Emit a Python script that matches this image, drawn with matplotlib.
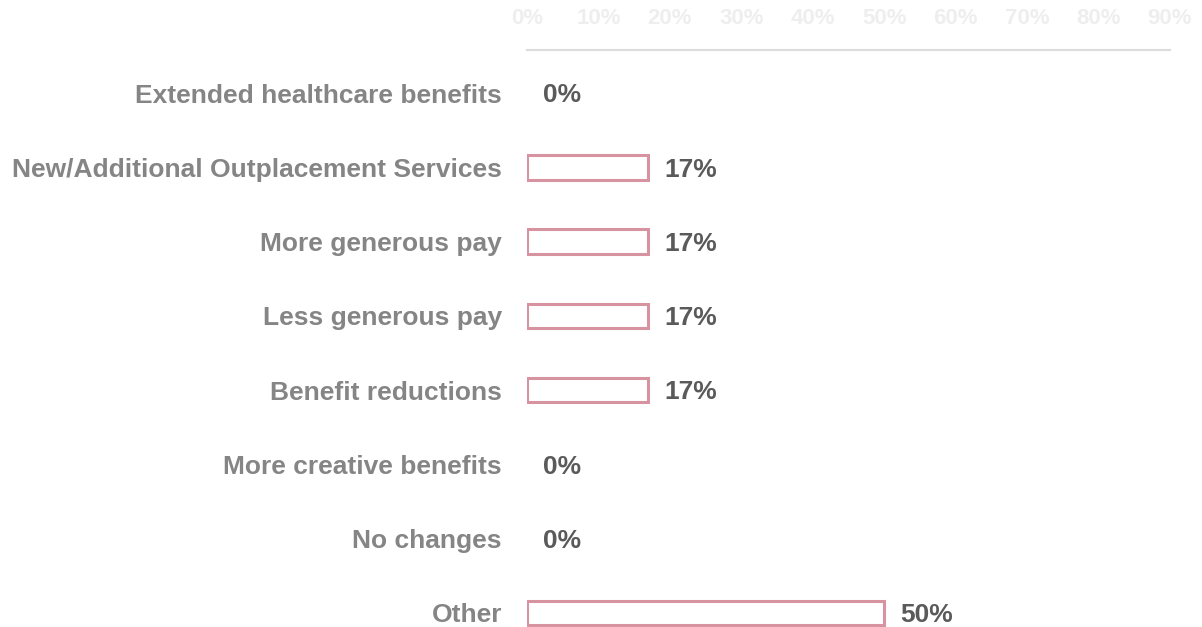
import matplotlib.pyplot as plt

categories = [
    "Extended healthcare benefits",
    "New/Additional Outplacement Services",
    "More generous pay",
    "Less generous pay",
    "Benefit reductions",
    "More creative benefits",
    "No changes",
    "Other",
]
values = [0, 17, 17, 17, 17, 0, 0, 50]
tick_values = [0, 10, 20, 30, 40, 50, 60, 70, 80, 90]
tick_labels = [f"{t}%" for t in tick_values]

plt.rcParams['font.family'] = ['Liberation Sans', 'DejaVu Sans']

fig = plt.figure(figsize=(12.02, 6.27), dpi=100)
ax = fig.add_axes([527 / 1202, 0.0, 643 / 1202, 577 / 627])

pos = list(range(len(categories)))
# zero values get no outline at all
widths = [2.2 if v > 0 else 0 for v in values]
ax.barh(pos, values, height=0.33, color='white', edgecolor='#d7939f', linewidth=widths)

for p, v in zip(pos, values):
    ax.text(v + 2.2, p + 0.03, f"{v}%", va='center', ha='left',
            fontsize=19, fontweight='bold', color='#5a5a5a')

ax.set_xlim(0, 90)
ax.set_ylim(7.19, -0.58)
ax.set_yticks(pos)
ax.set_yticklabels(categories, fontsize=19, fontweight='bold', color='#858585')
ax.tick_params(axis='y', length=0, pad=18)

ax.xaxis.tick_top()
ax.set_xticks(tick_values)
ax.set_xticklabels(tick_labels, fontsize=16, fontweight='bold', color='#eeeeee')
ax.tick_params(axis='x', length=0, pad=15)

for side in ['right', 'bottom', 'left']:
    ax.spines[side].set_visible(False)
ax.spines['top'].set_color('#dcdcdc')
ax.spines['top'].set_linewidth(1.5)

fig.savefig('out.png', dpi=100)
